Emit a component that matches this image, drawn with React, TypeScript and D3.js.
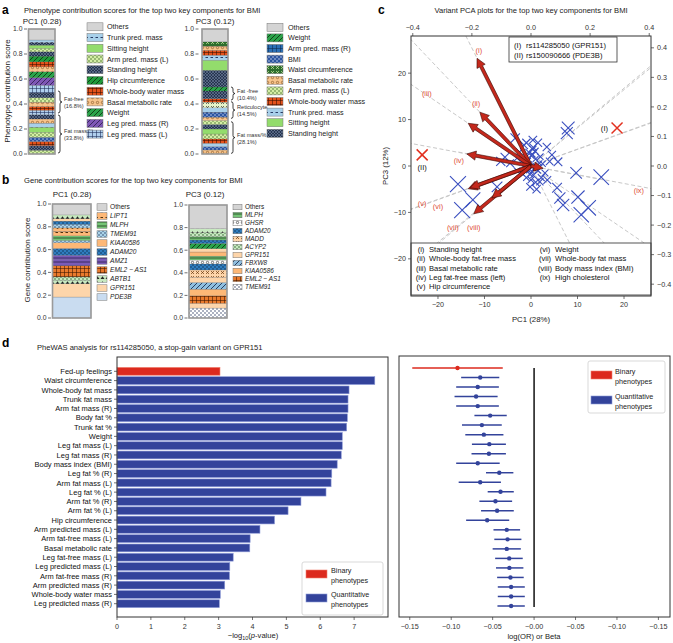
import React from 'react';
import * as d3 from 'd3';

const FONT = "'Liberation Sans', Arial, Helvetica, sans-serif";

// ---------------- Panel a data ----------------
const phenoPC1LegendLabels = ['Others', 'Trunk pred. mass', 'Sitting height', 'Arm pred. mass (L)', 'Standing height', 'Hip circumference', 'Whole-body water mass', 'Basal metabolic rate', 'Weight', 'Leg pred. mass (R)', 'Leg pred. mass (L)'];
const phenoPC1LegendKeys = ['others', 'trunkPred', 'sitting', 'armPredL', 'standing', 'hip', 'water', 'basal', 'weight', 'legPredR', 'legPredL'];
const phenoPC1Heights = [0.03, 0.037, 0.033, 0.034, 0.04, 0.04, 0.033, 0.033, 0.034, 0.036, 0.03, 0.035, 0.035, 0.038, 0.062, 0.06, 0.047, 0.04, 0.04, 0.046, 0.035, 0.027, 0.026, 0.02, 0.021, 0.088];
const phenoPC1Keys = ['armPredL', 'standing', 'water', 'bmi', 'armPredL', 'sitting', 'trunkPred', 'basal', 'standing', 'legPredL', 'water', 'basal', 'armPredL', 'standing', 'legPredL', 'legPredR', 'weight', 'basal', 'water', 'hip', 'standing', 'armPredL', 'sitting', 'standing', 'trunkPred', 'others'];
const phenoPC1Braces = [
  { lo: 0.328, hi: 0.504, l1: 'Fat-free', l2: '(16.8%)' },
  { lo: 0.008, hi: 0.312, l1: 'Fat mass/%', l2: '(33.8%)' },
];

const phenoPC3LegendLabels = ['Others', 'Weight', 'Arm pred. mass (R)', 'BMI', 'Waist circumference', 'Basal metabolic rate', 'Arm pred. mass (L)', 'Whole-body water mass', 'Trunk pred. mass', 'Sitting height', 'Standing height'];
const phenoPC3LegendKeys = ['others', 'weight', 'armPredR', 'bmi', 'waist', 'basal', 'armPredL', 'water', 'trunkPred', 'sitting', 'standing'];
const phenoPC3Heights = [0.032, 0.027, 0.027, 0.034, 0.04, 0.04, 0.036, 0.032, 0.027, 0.04, 0.035, 0.045, 0.027, 0.062, 0.032, 0.134, 0.08, 0.04, 0.04, 0.033, 0.035, 0.102];
const phenoPC3Keys = ['basal', 'bmi', 'trunkPred', 'water', 'armPredL', 'sitting', 'standing', 'armPredL', 'basal', 'bmi', 'trunkPred', 'zig', 'water', 'standing', 'weight', 'standing', 'sitting', 'trunkPred', 'water', 'basal', 'waist', 'others'];
const phenoPC3Braces = [
  { lo: 0.432, hi: 0.536, l1: 'Fat -free', l2: '(10.4%)' },
  { lo: 0.285, hi: 0.418, l1: 'Reticulocyte', l2: '(14.5%)' },
  { lo: 0.005, hi: 0.258, l1: 'Fat mass/%', l2: '(28.1%)' },
];

// ---------------- Panel b data ----------------
const genePC1LegendLabels = ['Others', 'LIPT1', 'MLPH', 'TMEM91', 'KIAA0586', 'ADAM20', 'AMZ1', 'EML2 − AS1', 'ABTB1', 'GPR151', 'PDE3B'];
const genePC1LegendKeys = ['g_others', 'g_lipt1', 'g_mlph', 'g_tmem91', 'g_kiaa', 'g_adam20', 'g_amz1', 'g_eml2', 'g_abtb1', 'g_gpr151', 'g_pde3b'];
const genePC1Heights = [0.184, 0.116, 0.03, 0.03, 0.098, 0.052, 0.04, 0.06, 0.05, 0.02, 0.04, 0.04, 0.03, 0.03, 0.03, 0.02, 0.034, 0.096];
const genePC1Keys = ['g_pde3b', 'g_gpr151', 'g_abtb1', 'g_acyp2', 'g_eml2', 'g_amz1', 'g_amz1', 'g_adam20', 'g_kiaa', 'g_tmem91', 'g_mlph', 'g_lipt1', 'g_lipt1v', 'g_tmem91', 'g_adam20', 'g_gpr151', 'g_abtb1', 'g_others'];

const genePC3LegendLabels = ['Others', 'MLPH', 'GHSR', 'ADAM20', 'MADD', 'ACYP2', 'GPR151', 'FBXW8', 'KIAA0586', 'EML2 − AS1', 'TMEM91'];
const genePC3LegendKeys = ['g_others', 'g_mlph', 'g_ghsr', 'g_adam20', 'g_madd', 'g_acyp2', 'g_gpr151', 'g_fbxw8', 'g_kiaa', 'g_eml2', 'g_tmem91b'];
const genePC3Heights = [0.088, 0.042, 0.066, 0.059, 0.059, 0.046, 0.065, 0.053, 0.035, 0.035, 0.036, 0.029, 0.047, 0.03, 0.03, 0.034, 0.036, 0.21];
const genePC3Keys = ['g_tmem91b', 'g_gpr151', 'g_eml2', 'g_kiaa', 'g_fbxw8', 'g_gpr151', 'g_madd', 'g_adam20', 'g_ghsr', 'g_mlph', 'g_kiaa', 'g_gpr151', 'g_hip', 'g_adam20', 'g_mlph', 'g_acyp2', 'g_abtb1', 'g_others'];

// ---------------- Panel c data ----------------
const traitNumerals = ['(i)', '(ii)', '(iii)', '(iv)', '(v)', '(vi)', '(vii)', '(viii)', '(ix)'];
const traitNames = ['Standing height', 'Whole-body fat-free mass', 'Basal metabolic rate', 'Leg fat-free mass (left)', 'Hip circumference', 'Weight', 'Whole-body fat mass', 'Body mass index (BMI)', 'High cholesterol'];
const traitLoadPC1 = [-11.6, -11.0, -13.5, -13.8, -13.5, -13.1, -12.3, -8.4, 2.6];
const traitLoadPC3 = [23.2, 11.6, 9.2, 2.6, -4.9, -4.7, -10.3, -6.9, -0.5];
const traitLabelPC1 = [-11.2, -11.8, -22.4, -15.5, -23.4, -20.0, -16.8, -12.3, 23.2];
const traitLabelPC3 = [24.9, 13.5, 15.7, 1.2, -8.0, -8.6, -13.3, -13.3, -5.2];

const variantPC1 = [-3.4, 0.4, 7.7, 8.0, 3.4, 4.5, 5.8, -4.5, -5.6, -15.7, -12.5, -14.8, -7.3, 9.7, 15.1, 5.6, 6.2, 6.9, 10.1, 12.3, 10.8, 1.9, -3.0, -6.5,
  -1, -2, 1, -0.5, 0.5, -1.5, 2, -0.5, 0.5, -1, 1.5, -2, 0, 1, -0.3, 0.8, -1.2, 2.5, -2.5, 1.5, -1, 3, 0.2, -0.8, 2.2, -3, 0.3, -0.2, 1.2, 3.5, 4,
  -0.6, 0.6, 0.1, -0.2, 0.9, -1.4, 1.8, 0.4];
const variantPC3 = [6.0, 5.6, 7.1, 8.2, 4.1, 2.4, 0.9, 0.6, 1.9, -3.9, -7.3, -9.5, -4.5, -1.5, -2.4, -4.7, -6.9, -8.4, -6.7, -9.0, -10.5, -3.4, 1.7, 1.0,
  2, 1, 1.5, 3, 4, 4.5, 2, -1, -2, -2.5, -1, -1.5, -3, -3.5, 0.5, 0.2, 0.8, 0.5, 3, 5, 5, -1.5, -1.2, -0.3, -2.5, -1, 2.5, -4.5, -5, -3, 1,
  1.2, -0.6, 2.2, -1.8, 3.2, -0.4, 0.6, 3.6];
const highlightNames = ['(I)', '(II)'];
const highlightPC1 = [18.5, -23.4];
const highlightPC3 = [8.2, 2.4];
const highlightLegend = [['(I)', 'rs114285050 (GPR151)'], ['(II)', 'rs150090666 (PDE3B)']];
const pc1Ticks = [-20, -10, 0, 10, 20];
const pc3Ticks = [-20, -10, 0, 10, 20];
const topTicks = [-0.4, -0.2, 0.0, 0.2, 0.4];
const rightTicks = [-0.4, -0.3, -0.2, -0.1, 0.0, 0.1, 0.2, 0.3, 0.4];

// ---------------- Panel d data ----------------
const pheLabels = ['Fed-up feelings', 'Waist circumference', 'Whole-body fat mass', 'Trunk fat mass', 'Arm fat mass (R)', 'Body fat %', 'Trunk fat %', 'Weight', 'Leg fat mass (L)', 'Leg fat mass (R)', 'Body mass index (BMI)', 'Leg fat % (R)', 'Arm fat mass (L)', 'Leg fat % (L)', 'Arm fat % (R)', 'Arm fat % (L)', 'Hip circumference', 'Arm predicted mass (L)', 'Arm fat-free mass (L)', 'Basal metabolic rate', 'Leg fat-free mass (L)', 'Leg predicted mass (L)', 'Arm fat-free mass (R)', 'Arm predicted mass (R)', 'Whole-body water mass', 'Leg predicted mass (R)'];
const pheType = ['binary', 'quant', 'quant', 'quant', 'quant', 'quant', 'quant', 'quant', 'quant', 'quant', 'quant', 'quant', 'quant', 'quant', 'quant', 'quant', 'quant', 'quant', 'quant', 'quant', 'quant', 'quant', 'quant', 'quant', 'quant', 'quant'];
const pheNegLog10P = [3.04, 7.61, 6.85, 6.82, 6.82, 6.80, 6.78, 6.65, 6.65, 6.62, 6.50, 6.34, 6.32, 6.17, 5.43, 5.05, 4.65, 4.22, 3.93, 3.92, 3.43, 3.33, 3.32, 3.18, 3.05, 3.02];
const pheBeta = [-0.0924, -0.065, -0.068, -0.070, -0.068, -0.053, -0.063, -0.0606, -0.054, -0.0545, -0.068, -0.042, -0.065, -0.0405, -0.0466, -0.0446, -0.0566, -0.033, -0.032, -0.033, -0.030, -0.0298, -0.0285, -0.0277, -0.0277, -0.0277];
const pheLo = [-0.147, -0.088, -0.094, -0.096, -0.094, -0.072, -0.087, -0.083, -0.075, -0.0755, -0.094, -0.058, -0.091, -0.056, -0.066, -0.064, -0.082, -0.049, -0.048, -0.050, -0.047, -0.046, -0.0446, -0.0438, -0.0438, -0.0442];
const pheHi = [-0.0378, -0.042, -0.0425, -0.044, -0.0425, -0.033, -0.039, -0.037, -0.034, -0.034, -0.0415, -0.025, -0.040, -0.0245, -0.0265, -0.0245, -0.030, -0.0169, -0.0153, -0.016, -0.0137, -0.0129, -0.0125, -0.0112, -0.0112, -0.0112];
const pTicks = [0, 1, 2, 3, 4, 5, 6, 7];
const betaTicks = [-0.15, -0.10, -0.05, 0.0, 0.05, 0.10, 0.15];
const betaTickLabels = ['−0.15', '−0.10', '−0.05', '−0.00', '−0.05', '−0.10', '−0.15'];
const legendTypes = [['binary', 'Binary', 'phenotypes'], ['quant', 'Quantitative', 'phenotypes']];

// ---------------- styles ----------------
const RED = '#dc2a1e';
const BLUE = '#33439b';
const TYPE_COLOR: Record<string, string> = { binary: RED, quant: BLUE };

const STYLE: Record<string, [string, string, string?]> = {
  others: ['#d4d4d4', 'plain'],
  trunkPred: ['#a8d0ea', 'dashes', '#1a2a55'],
  sitting: ['#93dc6c', 'plain'],
  armPredL: ['#d4eea4', 'dots', '#2d5a1b'],
  standing: ['#26354f', 'cross', '#8797b8'],
  hip: ['#1f9a3a', 'diag', '#0a2a0a'],
  water: ['#e4521b', 'grid', '#3a1000'],
  basal: ['#f7c48c', 'circles', '#7a4a1a'],
  weight: ['#2aa34a', 'diag', '#0a2a0a'],
  legPredR: ['#7e57b5', 'diag', '#2a1a4a'],
  legPredL: ['#b0d0ee', 'grid', '#1a2a55'],
  armPredR: ['#2a6fb5', 'grid', '#0c2a50'],
  bmi: ['#2c55a0', 'dots', '#e0e8ff'],
  waist: ['#2e6e2e', 'xs', '#c8e8a0'],
  zig: ['#e6f5c8', 'xs', '#303030'],
  g_others: ['#d4d4d4', 'plain'],
  g_lipt1: ['#fdb877', 'dashes', '#3a2000'],
  g_lipt1v: ['#fdb877', 'vs', '#3a2000'],
  g_mlph: ['#74c476', 'hlines', '#1a3a1a'],
  g_tmem91: ['#a9d3e8', 'dots', '#1a2a55'],
  g_tmem91b: ['#ffffff', 'dots', '#1a2a55'],
  g_kiaa: ['#fdb877', 'plain'],
  g_adam20: ['#2f7dbf', 'dots', '#0b2340'],
  g_amz1: ['#7a5bb8', 'hlines', '#2a1a4a'],
  g_eml2: ['#ea7a2c', 'grid', '#3a1500'],
  g_abtb1: ['#c7e9c0', 'tri', '#202020'],
  g_acyp2: ['#c7e9c0', 'dots', '#1a4a1a'],
  g_gpr151: ['#fdd5aa', 'plain'],
  g_pde3b: ['#c9dcf0', 'plain'],
  g_ghsr: ['#ffffff', 'circles', '#202020'],
  g_madd: ['#fdd5aa', 'xs', '#6a3a10'],
  g_fbxw8: ['#8fbfe0', 'diag', '#102040'],
  g_hip: ['#2aa34a', 'diag', '#0a2a0a'],
};

function Pattern({ id, bg, kind, fg }: { id: string; bg: string; kind: string; fg?: string }) {
  const c = fg || '#000';
  let s = 4;
  let inner: any = null;
  switch (kind) {
    case 'dots':
      s = 4;
      inner = (<><circle cx={1} cy={1} r={0.7} fill={c} /><circle cx={3} cy={3} r={0.7} fill={c} /></>);
      break;
    case 'dashes':
      s = 5;
      inner = <path d="M0.5,2.5 H3" stroke={c} strokeWidth={0.9} />;
      break;
    case 'diag':
      s = 5;
      inner = <path d="M0,5 L5,0 M-1,1 L1,-1 M4,6 L6,4" stroke={c} strokeWidth={0.8} />;
      break;
    case 'grid':
      s = 4;
      inner = <path d="M0.3,0 V4 M0,0.3 H4" stroke={c} strokeWidth={0.7} />;
      break;
    case 'hlines':
      s = 4;
      inner = <path d="M0,2 H4" stroke={c} strokeWidth={0.8} />;
      break;
    case 'circles':
      s = 5;
      inner = <circle cx={2.5} cy={2.5} r={1.2} fill="none" stroke={c} strokeWidth={0.6} />;
      break;
    case 'xs':
      s = 5;
      inner = <path d="M1,1 L4,4 M4,1 L1,4" stroke={c} strokeWidth={0.7} />;
      break;
    case 'cross':
      s = 3;
      inner = <path d="M0,0 L3,3 M3,0 L0,3" stroke={c} strokeWidth={0.45} />;
      break;
    case 'tri':
      s = 5;
      inner = <path d="M0.5,4 L2.5,1.2 L4.5,4 Z" fill={c} />;
      break;
    case 'vs':
      s = 5;
      inner = <path d="M0.5,1 L2.5,4 L4.5,1" stroke={c} strokeWidth={0.7} fill="none" />;
      break;
    default:
      inner = null;
  }
  return (
    <pattern id={id} patternUnits="userSpaceOnUse" width={s} height={s}>
      <rect width={s} height={s} fill={bg} />
      {inner}
    </pattern>
  );
}

function StackBar({ heights, keys, x0, x1, y }: any) {
  const tops = Array.from(d3.cumsum(heights as number[]));
  return (
    <g>
      {heights.map((h: number, i: number) => {
        const top = tops[i];
        const bot = top - h;
        return <rect key={i} x={x0} width={x1 - x0} y={y(top)} height={y(bot) - y(top)} fill={`url(#p-${keys[i]})`} stroke="#555" strokeWidth={0.2} />;
      })}
      <rect x={x0} y={y(1)} width={x1 - x0} height={y(0) - y(1)} fill="none" stroke="#9a9a9a" strokeWidth={1.6} />
    </g>
  );
}

function YAxisTicks({ y, x, ticks, fs }: any) {
  return (
    <g>
      {ticks.map((t: number) => (
        <g key={t}>
          <line x1={x - 3} x2={x} y1={y(t)} y2={y(t)} stroke="#333" strokeWidth={0.7} />
          <text x={x - 4.5} y={y(t) + fs * 0.36} fontSize={fs} textAnchor="end" fill="#333">{t.toFixed(1)}</text>
        </g>
      ))}
    </g>
  );
}

function Legend({ labels, keys, x, y0, step, sw, sh, fs, tx, italic }: any) {
  return (
    <g>
      {labels.map((l: string, i: number) => (
        <g key={i}>
          <rect x={x} y={y0 + i * step - sh / 2} width={sw} height={sh} fill={`url(#p-${keys[i]})`} stroke="#777" strokeWidth={0.5} />
          <text x={tx} y={y0 + i * step + fs * 0.36} fontSize={fs} fill="#222" fontStyle={italic && l !== 'Others' ? 'italic' : 'normal'}>{l}</text>
        </g>
      ))}
    </g>
  );
}

function Braces({ braces, y, x }: any) {
  const w = 2;
  return (
    <g>
      {braces.map((b: any, i: number) => {
        const y1 = y(b.hi), y2 = y(b.lo), ym = (y1 + y2) / 2, r = 2;
        const d = `M${x},${y1} Q${x + w},${y1} ${x + w},${y1 + r} L${x + w},${ym - r} Q${x + w},${ym} ${x + 2 * w},${ym} Q${x + w},${ym} ${x + w},${ym + r} L${x + w},${y2 - r} Q${x + w},${y2} ${x},${y2}`;
        return (
          <g key={i}>
            <path d={d} fill="none" stroke="#111" strokeWidth={0.8} />
            <text x={x + 2 * w + 2} y={ym - 1} fontSize={5.6} fill="#333">{b.l1}</text>
            <text x={x + 2 * w + 2} y={ym + 6} fontSize={5.6} fill="#333">{b.l2}</text>
          </g>
        );
      })}
    </g>
  );
}

function Arrow({ x0, y0, x1, y1 }: any) {
  const dx = x1 - x0, dy = y1 - y0;
  const L = Math.hypot(dx, dy);
  const ux = dx / L, uy = dy / L;
  const nx = -uy, ny = ux;
  const hw = 1.6, hh = 4.6, hl = 9;
  const bx = x1 - ux * hl, by = y1 - uy * hl;
  const pts = [
    [x0 + nx * hw, y0 + ny * hw],
    [bx + nx * hw, by + ny * hw],
    [bx + nx * hh, by + ny * hh],
    [x1, y1],
    [bx - nx * hh, by - ny * hh],
    [bx - nx * hw, by - ny * hw],
    [x0 - nx * hw, y0 - ny * hw],
  ];
  return <polygon points={pts.map((p) => p.join(',')).join(' ')} fill="#c4281c" stroke="#3a0a05" strokeWidth={0.6} strokeLinejoin="miter" />;
}

function XMark({ cx, cy, r, color, w }: any) {
  return <path d={`M${cx - r},${cy - r} L${cx + r},${cy + r} M${cx + r},${cy - r} L${cx - r},${cy + r}`} stroke={color} strokeWidth={w} />;
}

export default function App() {
  const yA = d3.scaleLinear().domain([0, 1]).range([154, 29]);
  const yB1 = d3.scaleLinear().domain([0, 1]).range([318, 204]);
  const yB3 = d3.scaleLinear().domain([0, 1]).range([318, 205]);
  const fracTicks = [0, 0.2, 0.4, 0.6, 0.8, 1.0];

  const cL = 411, cR = 651, cT = 36, cB = 296;
  const xC = d3.scaleLinear().domain([-25.8, 25.8]).range([cL, cR]);
  const yC = d3.scaleLinear().domain([-28, 28]).range([cB, cT]);
  const xTop = d3.scaleLinear().domain([-0.406, 0.406]).range([cL, cR]);
  const yRight = d3.scaleLinear().domain([-0.44, 0.44]).range([cB, cT]);
  const sizeC = d3.scaleLinear().domain([0, 16]).range([2.2, 8]).clamp(true);

  const dL = 117, dR = 388, dT = 357, dB = 617;
  const xP = d3.scaleLinear().domain([0, 8]).range([dL, dR]);
  const yP = d3.scaleBand().domain(pheLabels).range([367.4, 607.6]).paddingInner(0.16);
  const eL = 399, eR = 670, eT = 356, eB = 617;
  const xE = d3.scaleLinear().domain([-0.163, 0.164]).range([eL, eR]);
  const yE = d3.scalePoint().domain(pheLabels).range([368, 606]);

  const patternKeys = Object.keys(STYLE);

  return (
    <svg width={673} height={643} style={{ position: 'absolute', left: 0, top: 0, background: '#fff' }} fontFamily={FONT}>
      <defs>
        {patternKeys.map((k) => (
          <Pattern key={k} id={`p-${k}`} bg={STYLE[k][0]} kind={STYLE[k][1]} fg={STYLE[k][2]} />
        ))}
        <clipPath id="clipC"><rect x={cL} y={cT} width={cR - cL} height={cB - cT} /></clipPath>
      </defs>

      {/* ---------------- Panel a ---------------- */}
      <text x={2} y={14} fontSize={12} fontWeight="bold">a</text>
      <text x={24} y={13} fontSize={7.6} fill="#222">Phenotype contribution scores for the top two key components for BMI</text>
      <text x={42} y={24} fontSize={8} textAnchor="middle" fill="#222">PC1 (0.28)</text>
      <text transform="translate(10,91) rotate(-90)" fontSize={8} textAnchor="middle" fill="#222">Phenotype contribution score</text>
      <YAxisTicks y={yA} x={27} ticks={fracTicks} fs={6.8} />
      <StackBar heights={phenoPC1Heights} keys={phenoPC1Keys} x0={28.5} x1={55} y={yA} />
      <Braces braces={phenoPC1Braces} y={yA} x={58} />
      <Legend labels={phenoPC1LegendLabels} keys={phenoPC1LegendKeys} x={87} y0={26.8} step={10.73} sw={16} sh={8} fs={7.2} tx={107} />

      <text x={215} y={24} fontSize={8} textAnchor="middle" fill="#222">PC3 (0.12)</text>
      <YAxisTicks y={yA} x={198.5} ticks={fracTicks} fs={6.8} />
      <StackBar heights={phenoPC3Heights} keys={phenoPC3Keys} x0={202} x1={228} y={yA} />
      <Braces braces={phenoPC3Braces} y={yA} x={231} />
      <Legend labels={phenoPC3LegendLabels} keys={phenoPC3LegendKeys} x={267} y0={27.3} step={10.6} sw={16} sh={8} fs={7.2} tx={288} />

      {/* ---------------- Panel b ---------------- */}
      <text x={2} y={184} fontSize={12} fontWeight="bold">b</text>
      <text x={24} y={183} fontSize={7.6} fill="#222">Gene contribution scores for the top two key components for BMI</text>
      <text x={72} y={197} fontSize={8} textAnchor="middle" fill="#222">PC1 (0.28)</text>
      <text transform="translate(30,260) rotate(-90)" fontSize={8} textAnchor="middle" fill="#222">Gene contribution score</text>
      <YAxisTicks y={yB1} x={51} ticks={fracTicks} fs={6.8} />
      <StackBar heights={genePC1Heights} keys={genePC1Keys} x0={52.5} x1={91} y={yB1} />
      <Legend labels={genePC1LegendLabels} keys={genePC1LegendKeys} x={97} y0={207} step={9} sw={10} sh={6.5} fs={6.6} tx={110} italic />

      <text x={205} y={197} fontSize={8} textAnchor="middle" fill="#222">PC3 (0.12)</text>
      <YAxisTicks y={yB3} x={187.5} ticks={fracTicks} fs={6.8} />
      <StackBar heights={genePC3Heights} keys={genePC3Keys} x0={189} x1={227} y={yB3} />
      <Legend labels={genePC3LegendLabels} keys={genePC3LegendKeys} x={233} y0={207} step={8} sw={9} sh={5.5} fs={6.4} tx={245} italic />

      {/* ---------------- Panel c ---------------- */}
      <text x={378} y={14} fontSize={12} fontWeight="bold">c</text>
      <text x={531} y={13} fontSize={7.6} textAnchor="middle" fill="#222">Variant PCA plots for the top two key components for BMI</text>
      <g clipPath="url(#clipC)">
        {traitLoadPC1.map((v, i) => {
          const k = 6;
          return <line key={i} x1={xC(-v * k)} y1={yC(-traitLoadPC3[i] * k)} x2={xC(v * k)} y2={yC(traitLoadPC3[i] * k)} stroke="#c8c8c8" strokeWidth={1} strokeDasharray="4,2.5" />;
        })}
      </g>
      {variantPC1.map((v, i) => (
        <XMark key={i} cx={xC(v)} cy={yC(variantPC3[i])} r={sizeC(Math.hypot(v, variantPC3[i]))} color="#3a4fbf" w={1.1} />
      ))}
      {traitLoadPC1.map((v, i) => (
        <Arrow key={i} x0={xC(0)} y0={yC(0)} x1={xC(v)} y1={yC(traitLoadPC3[i])} />
      ))}
      {traitLabelPC1.map((v, i) => (
        <text key={i} x={xC(v)} y={yC(traitLabelPC3[i]) + 2.7} fontSize={7.4} textAnchor="middle" fill="#e0503a">{traitNumerals[i]}</text>
      ))}
      {highlightPC1.map((v, i) => (
        <XMark key={i} cx={xC(v)} cy={yC(highlightPC3[i])} r={5.5} color="#e2301f" w={1.5} />
      ))}
      <text x={xC(highlightPC1[0]) - 9} y={yC(highlightPC3[0]) + 2.7} fontSize={7.6} textAnchor="end" fill="#111">{highlightNames[0]}</text>
      <text x={xC(highlightPC1[1])} y={yC(highlightPC3[1]) + 15} fontSize={7.6} textAnchor="middle" fill="#111">{highlightNames[1]}</text>
      <rect x={509} y={37} width={108} height={25} fill="#fff" stroke="#333" strokeWidth={0.8} />
      {highlightLegend.map((h, i) => (
        <g key={i}>
          <text x={514} y={47.5 + i * 10.5} fontSize={7.6} fill="#111">{h[0]}</text>
          <text x={526} y={47.5 + i * 10.5} fontSize={7.6} fill="#111">{h[1]}</text>
        </g>
      ))}
      <rect x={cL} y={243} width={cR - cL} height={52} fill="#fff" stroke="#555" strokeWidth={1} />
      {traitNames.map((n, i) => {
        const col = i < 5 ? 0 : 1;
        const row = col === 0 ? i : i - 5;
        const yy = 249.3 + row * 9.35 + 2.7;
        return (
          <g key={i}>
            <text x={col === 0 ? 421 : 545} y={yy} fontSize={7.6} textAnchor="middle" fill="#111">{traitNumerals[i]}</text>
            <text x={col === 0 ? 429 : 555} y={yy} fontSize={7.6} fill="#111">{n}</text>
          </g>
        );
      })}
      <rect x={cL} y={cT} width={cR - cL} height={cB - cT} fill="none" stroke="#333" strokeWidth={1} />
      {pc1Ticks.map((t) => (
        <g key={t}>
          <line x1={xC(t)} x2={xC(t)} y1={cB} y2={cB + 3} stroke="#333" strokeWidth={0.7} />
          <text x={xC(t)} y={cB + 11} fontSize={7.2} textAnchor="middle" fill="#333">{t < 0 ? '−' + Math.abs(t) : t}</text>
        </g>
      ))}
      {pc3Ticks.map((t) => (
        <g key={t}>
          <line x1={cL - 3} x2={cL} y1={yC(t)} y2={yC(t)} stroke="#333" strokeWidth={0.7} />
          <text x={cL - 5} y={yC(t) + 2.6} fontSize={7.2} textAnchor="end" fill="#333">{t < 0 ? '−' + Math.abs(t) : t}</text>
        </g>
      ))}
      {topTicks.map((t) => (
        <g key={t}>
          <line x1={xTop(t)} x2={xTop(t)} y1={cT - 3} y2={cT} stroke="#333" strokeWidth={0.7} />
          <text x={xTop(t)} y={cT - 6} fontSize={7.2} textAnchor="middle" fill="#333">{t < 0 ? '−' + Math.abs(t).toFixed(1) : t.toFixed(1)}</text>
        </g>
      ))}
      {rightTicks.map((t) => (
        <g key={t}>
          <line x1={cR} x2={cR + 3} y1={yRight(t)} y2={yRight(t)} stroke="#333" strokeWidth={0.7} />
          <text x={cR + 6} y={yRight(t) + 2.6} fontSize={7.2} fill="#333">{t < -1e-9 ? '−' + Math.abs(t).toFixed(1) : Math.abs(t).toFixed(1)}</text>
        </g>
      ))}
      <text x={531} y={322} fontSize={7.8} textAnchor="middle" fill="#222">PC1 (28%)</text>
      <text transform="translate(388,166) rotate(-90)" fontSize={7.8} textAnchor="middle" fill="#222">PC3 (12%)</text>

      {/* ---------------- Panel d ---------------- */}
      <text x={2} y={347} fontSize={12} fontWeight="bold">d</text>
      <text x={37} y={350} fontSize={7.6} fill="#222">PheWAS analysis for rs114285050, a stop-gain variant on GPR151</text>
      {pheLabels.map((l, i) => (
        <g key={l}>
          <rect x={xP(0)} y={yP(l)} width={xP(pheNegLog10P[i]) - xP(0)} height={yP.bandwidth()} fill={TYPE_COLOR[pheType[i]]} stroke={pheType[i] === 'binary' ? '#f08070' : '#8d9ad8'} strokeWidth={0.6} />
          <line x1={dL - 3} x2={dL} y1={(yP(l) as number) + yP.bandwidth() / 2} y2={(yP(l) as number) + yP.bandwidth() / 2} stroke="#333" strokeWidth={0.7} />
          <text x={dL - 5} y={(yP(l) as number) + yP.bandwidth() / 2 + 2.7} fontSize={7.5} textAnchor="end" fill="#111">{l}</text>
        </g>
      ))}
      <rect x={dL} y={dT} width={dR - dL} height={dB - dT} fill="none" stroke="#333" strokeWidth={1} />
      {pTicks.map((t) => (
        <g key={t}>
          <line x1={xP(t)} x2={xP(t)} y1={dB} y2={dB + 3} stroke="#333" strokeWidth={0.7} />
          <text x={xP(t)} y={dB + 12} fontSize={7.2} textAnchor="middle" fill="#333">{t}</text>
        </g>
      ))}
      <text x={253} y={638} fontSize={7.6} textAnchor="middle" fill="#222">−log<tspan fontSize={5.4} dy={2}>10</tspan><tspan dy={-2}>(</tspan><tspan fontStyle="italic">p</tspan>-value)</text>
      <rect x={302} y={562} width={81} height={53} rx={2} fill="#fff" stroke="#cfcfcf" strokeWidth={0.8} />
      {legendTypes.map((lt, i) => (
        <g key={lt[0]}>
          <rect x={306} y={570 + i * 24} width={21} height={8} fill={TYPE_COLOR[lt[0]]} stroke={lt[0] === 'binary' ? '#f08070' : '#8d9ad8'} strokeWidth={0.6} />
          <text x={331} y={572.5 + i * 24} fontSize={7.2} fill="#222">{lt[1]}</text>
          <text x={331} y={582.5 + i * 24} fontSize={7.2} fill="#222">{lt[2]}</text>
        </g>
      ))}

      <line x1={xE(0)} x2={xE(0)} y1={368} y2={607} stroke="#111" strokeWidth={1.5} />
      {pheLabels.map((l, i) => (
        <g key={l}>
          <line x1={xE(pheLo[i])} x2={xE(pheHi[i])} y1={yE(l)} y2={yE(l)} stroke={TYPE_COLOR[pheType[i]]} strokeWidth={1.5} />
          <circle cx={xE(pheBeta[i])} cy={yE(l)} r={2.2} fill={TYPE_COLOR[pheType[i]]} />
        </g>
      ))}
      <rect x={eL} y={eT} width={eR - eL} height={eB - eT} fill="none" stroke="#333" strokeWidth={1} />
      {betaTicks.map((t, i) => (
        <g key={i}>
          <line x1={xE(t)} x2={xE(t)} y1={eB} y2={eB + 3} stroke="#333" strokeWidth={0.7} />
          <text x={xE(t)} y={eB + 12} fontSize={7.2} textAnchor="middle" fill="#333">{betaTickLabels[i]}</text>
        </g>
      ))}
      <text x={534} y={639} fontSize={7.6} textAnchor="middle" fill="#222">log(OR) or Beta</text>
      <rect x={588} y={361} width={77} height={52} rx={2} fill="#fff" stroke="#cfcfcf" strokeWidth={0.8} />
      {legendTypes.map((lt, i) => (
        <g key={lt[0]}>
          <rect x={591} y={371 + i * 25} width={21} height={8} fill={TYPE_COLOR[lt[0]]} stroke={lt[0] === 'binary' ? '#f08070' : '#8d9ad8'} strokeWidth={0.6} />
          <text x={615} y={374 + i * 25} fontSize={7.2} fill="#222">{lt[1]}</text>
          <text x={615} y={384 + i * 25} fontSize={7.2} fill="#222">{lt[2]}</text>
        </g>
      ))}
    </svg>
  );
}
